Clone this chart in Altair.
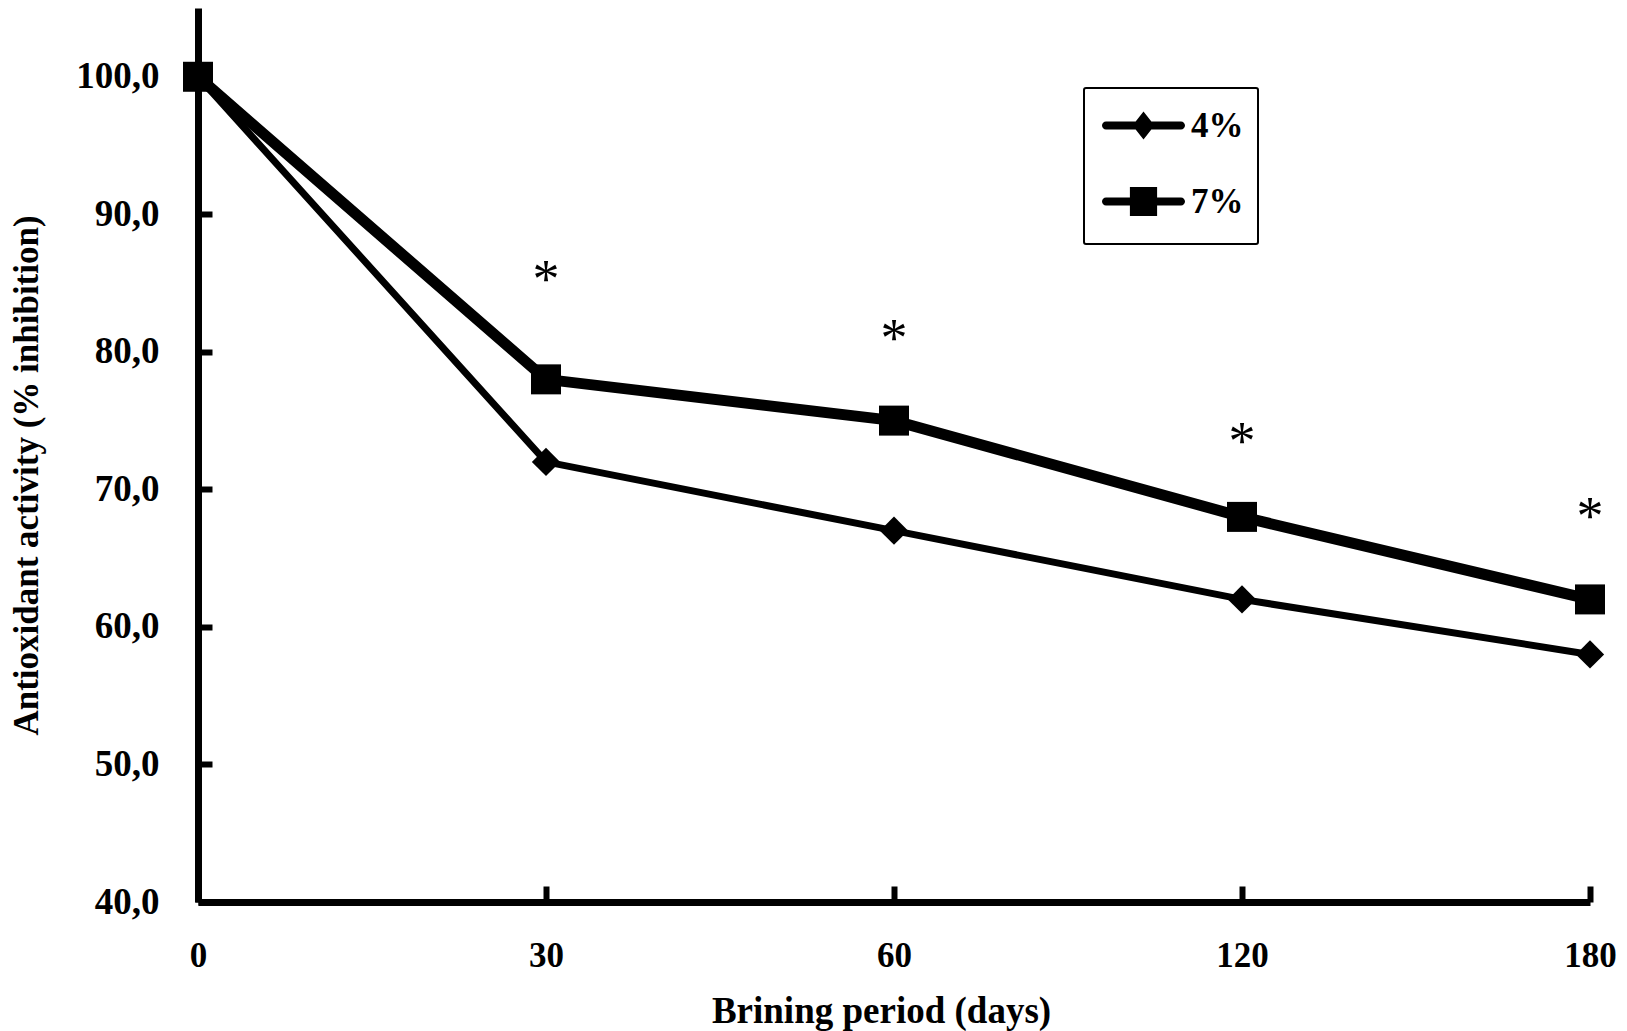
import altair as alt
import pandas as pd

# brining period (days) and antioxidant activity (% inhibition)
days = ["0", "30", "60", "120", "180"]
salt_4 = [100.0, 72.0, 67.0, 62.0, 58.0]
salt_7 = [100.0, 78.0, 75.0, 68.0, 62.0]
series = ["4%", "7%"]

# significance marks (*) above the 7% curve
star_days = ["30", "60", "120", "180"]
star_pos = [85.8, 81.5, 74.0, 68.6]

y_ticks = [40, 50, 60, 70, 80, 90, 100]

FONT = "Liberation Serif"
W, H = 1392, 894

df = pd.DataFrame({
    "day": days * 2,
    "value": salt_4 + salt_7,
    "brine": [series[0]] * len(days) + [series[1]] * len(days),
})
stars = pd.DataFrame({"day": star_days, "pos": star_pos})

x_scale = alt.Scale(type="point", padding=0)
y_scale = alt.Scale(domain=[40, 105], nice=False, zero=False)

# legend symbols: a round-capped bar with the marker on it (filled shapes)
BAR = "M-1.875,-0.2L1.875,-0.2A0.2,0.2 0 0 1 1.875,0.2L-1.875,0.2A0.2,0.2 0 0 1 -1.875,-0.2Z"
P4 = BAR + "M0,-0.7L0.55,0L0,0.7L-0.55,0Z"
P7 = BAR + "M-0.68,-0.72L0.68,-0.72L0.68,0.72L-0.68,0.72Z"

x_axis = alt.Axis(
    title="Brining period (days)", labelAngle=0, ticks=False,
    labelFont=FONT, labelFontSize=35, labelFontWeight="bold", labelColor="black",
    labelPadding=36, domainColor="black", domainWidth=7, grid=False,
    titleFont=FONT, titleFontSize=37, titleFontWeight="bold", titleColor="black",
    titleX=683, titleY=109, titleBaseline="middle", titleAlign="center",
)
y_axis = alt.Axis(
    title="Antioxidant activity (% inhibition)", values=y_ticks, ticks=False,
    labelExpr="replace(format(datum.value, '.1f'), '.', ',')",
    labelFont=FONT, labelFontSize=37, labelFontWeight="bold", labelColor="black",
    labelPadding=39, domainColor="black", domainWidth=7, grid=False,
    titleFont=FONT, titleFontSize=35, titleFontWeight="bold", titleColor="black",
    titleX=-172, titleY=467, titleBaseline="middle", titleAlign="center", titleAngle=270,
)

lines = alt.Chart(df).mark_line(color="black").encode(
    x=alt.X("day:N", sort=days, scale=x_scale, axis=x_axis),
    y=alt.Y("value:Q", scale=y_scale, axis=y_axis),
    detail="brine:N",
    strokeWidth=alt.StrokeWidth("brine:N", scale=alt.Scale(domain=series, range=[7, 11]), legend=None),
)

points = alt.Chart(df).mark_point(filled=True, color="black", opacity=1).encode(
    x=alt.X("day:N", sort=days, scale=x_scale, axis=None),
    y=alt.Y("value:Q", scale=y_scale, axis=None),
    size=alt.Size("brine:N", scale=alt.Scale(domain=series, range=[800, 900]), legend=None),
    shape=alt.Shape("brine:N", scale=alt.Scale(domain=series, range=["diamond", "square"]), legend=None),
)

# legend only: no rows drawn, the symbols come from its own shape scale
key = alt.Chart(df).transform_filter("false").mark_point(
    filled=False, fill="black", stroke="black", strokeWidth=7, opacity=1
).encode(
    x=alt.X("day:N", sort=days, scale=x_scale, axis=None),
    y=alt.Y("value:Q", scale=y_scale, axis=None),
    shape=alt.Shape(
        "brine:N",
        scale=alt.Scale(domain=series, range=[P4, P7]),
        legend=alt.Legend(
            title=None, orient="none", legendX=886, legendY=80, direction="vertical",
            labelFont=FONT, labelFontSize=35, labelFontWeight="bold", labelColor="black",
            padding=14, rowPadding=19, symbolOffset=22, labelOffset=24,
            strokeColor="black", fillColor="white", cornerRadius=2, symbolSize=1600,
            symbolFillColor="black", symbolStrokeColor="black", symbolStrokeWidth=7,
            symbolOpacity=1,
        ),
    ),
)

# asterisks, also carrying the inward tick marks of both axes
marks = alt.Chart(stars).mark_text(
    text="*", font=FONT, fontSize=54, baseline="alphabetic", dy=25, color="black"
).encode(
    x=alt.X("day:N", sort=days, scale=x_scale,
            axis=alt.Axis(orient="top", offset=-H, labels=False, domain=False, title=None,
                          tickSize=16, tickWidth=6, tickColor="black", grid=False)),
    y=alt.Y("pos:Q", scale=y_scale,
            axis=alt.Axis(orient="right", offset=-W, labels=False, domain=False, title=None,
                          values=y_ticks, tickSize=14, tickWidth=6, tickColor="black", grid=False)),
)

chart = alt.layer(lines, points, key, marks).resolve_scale(
    shape="independent"
).resolve_axis(
    x="independent", y="independent"
).properties(
    width=W, height=H,
    autosize=alt.AutoSizeParams(type="none"),
    padding={"left": 190, "top": 0, "right": 29, "bottom": 129},
    background="white",
).configure_view(stroke=None).configure_legend(strokeWidth=2)

chart.save("out.html", embed_options={"renderer": "svg", "actions": False})
